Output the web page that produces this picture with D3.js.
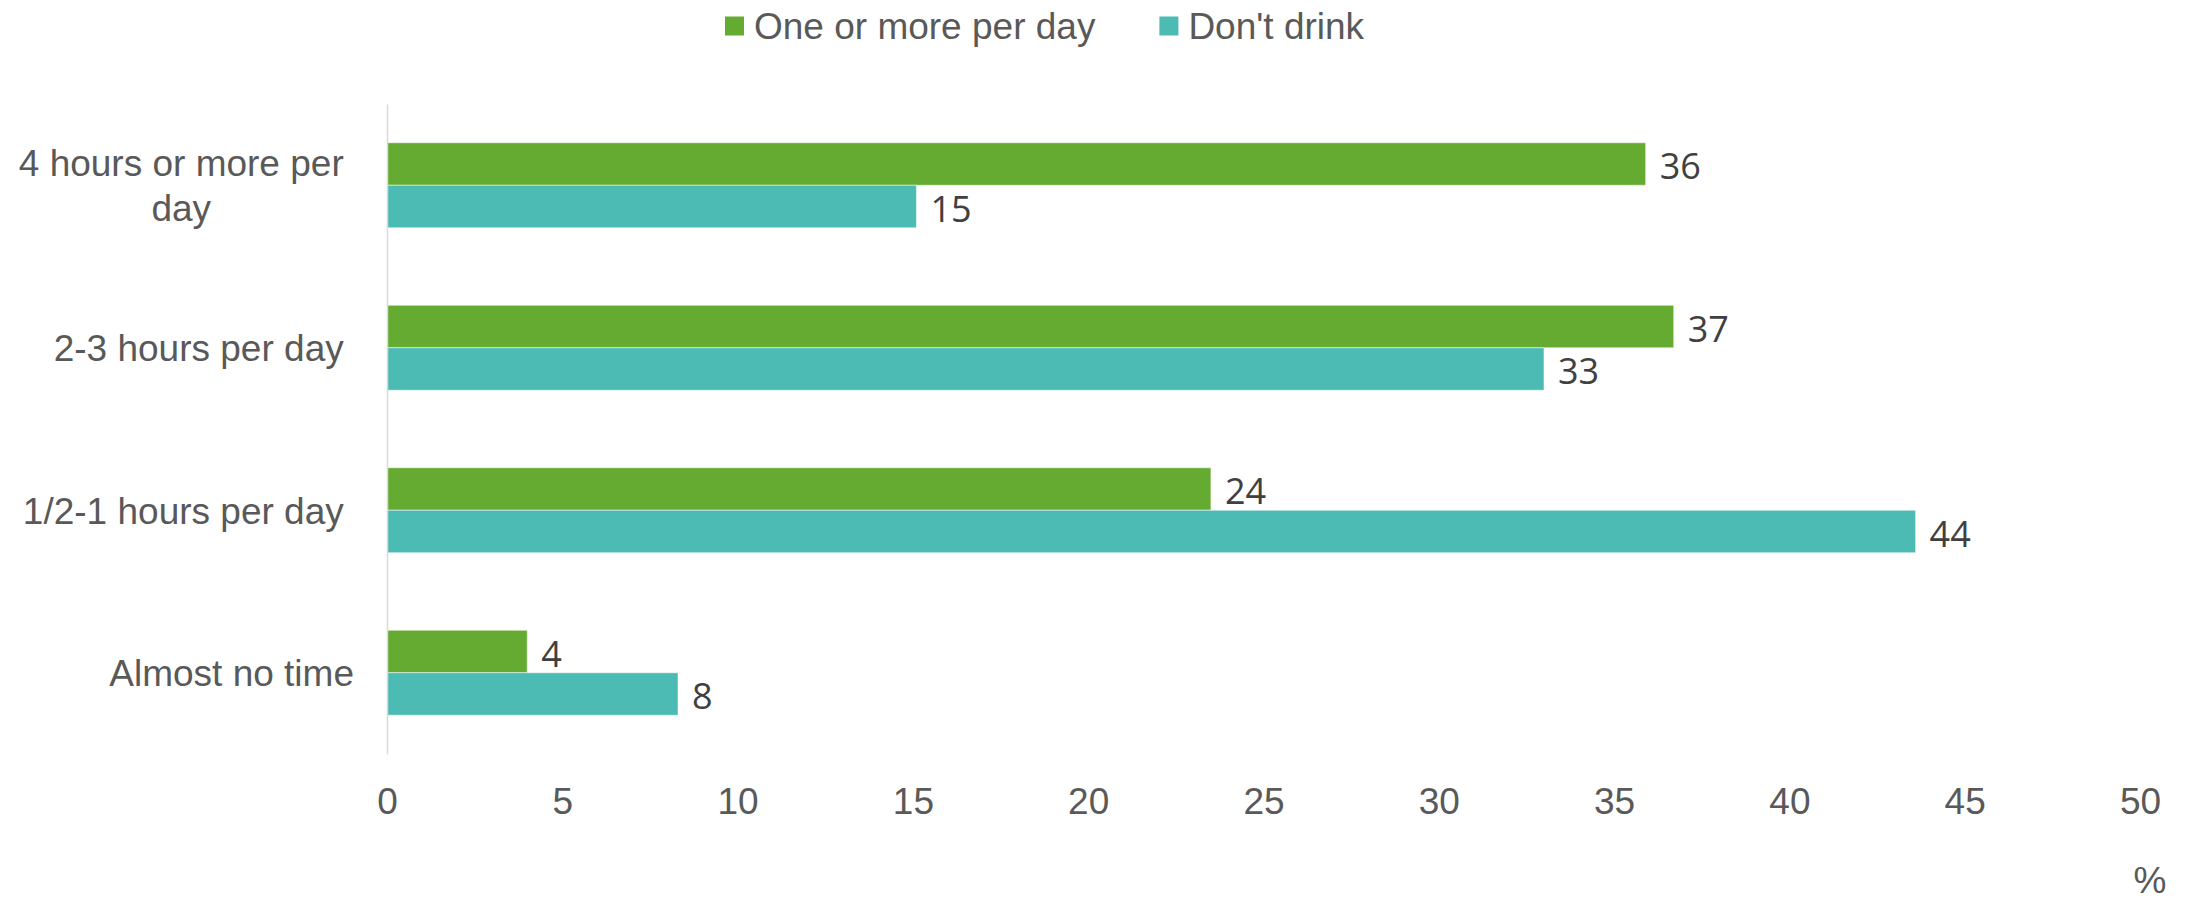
<!DOCTYPE html>
<html>
<head>
<meta charset="utf-8">
<script src="https://cdn.jsdelivr.net/npm/d3@7"></script>
<style>
  body { margin: 0; background: #fff; }
  svg { display: block; }
  .lbl { font-family: "Liberation Sans", Arial, sans-serif; font-size: 37px; fill: #595959; }
  .val { font-family: "Open Sans", "Noto Sans", sans-serif; font-size: 36px; fill: #404040; }
</style>
</head>
<body>
<svg id="chart" width="2186" height="901"></svg>
<script>
// Time spent on screens vs. sugary-drink consumption (%)
const categories = ["4 hours or more per day ", "2-3 hours per day ", "1/2-1 hours per day ", "Almost no time"];
const seriesNames = ["One or more per day", "Don't drink"];
const oneOrMorePerDay = [35.9, 36.7, 23.5, 4.0];
const dontDrink = [15.1, 33.0, 43.6, 8.3];
const xTickValues = [0, 5, 10, 15, 20, 25, 30, 35, 40, 45, 50];
const unitLabel = "%";
const seriesColors = ["#65ab31", "#4bbbb4"];

const series = [oneOrMorePerDay, dontDrink];
const rows = categories.map((c, i) => ({
  category: c,
  values: seriesNames.map((s, j) => ({ series: s, value: series[j][i], color: seriesColors[j] }))
}));

const svg = d3.select("#chart");
svg.append("rect").attr("width", 2186).attr("height", 901).attr("fill", "#fff");

const plot = { left: 387, right: 2140, top: 104, bottom: 754 };

const x = d3.scaleLinear().domain([0, 50]).range([plot.left, plot.right]);
const y = d3.scaleBand().domain(categories).range([plot.top, plot.bottom])
  .paddingInner(0.477).paddingOuter(0.2385);
const ySub = d3.scaleBand().domain(seriesNames).range([0, y.bandwidth()]);

// Bars
const groups = svg.append("g").selectAll("g").data(rows).join("g")
  .attr("transform", d => `translate(0,${y(d.category)})`);

groups.selectAll("rect").data(d => d.values).join("rect")
  .attr("x", x(0))
  .attr("y", d => ySub(d.series))
  .attr("width", d => x(d.value) - x(0))
  .attr("height", ySub.bandwidth())
  .attr("fill", d => d.color)
  .attr("stroke", "#ffffff")
  .attr("stroke-opacity", 0.5)
  .attr("stroke-width", 1);

// Value labels
groups.selectAll("text").data(d => d.values).join("text")
  .attr("class", "val")
  .attr("x", d => x(d.value) + 14)
  .attr("y", d => ySub(d.series) + ySub.bandwidth() / 2)
  .attr("dy", "0.42em")
  .text(d => Math.round(d.value));

// X axis (labels only)
const xAxis = svg.append("g")
  .attr("transform", `translate(0,${plot.bottom})`)
  .call(d3.axisBottom(x).tickValues(xTickValues).tickSize(0).tickPadding(34));
xAxis.select(".domain").remove();
xAxis.selectAll("text").attr("class", "lbl").attr("font-size", null).attr("font-family", null);

// Y axis with wrapped, centred category labels
const yAxis = svg.append("g")
  .attr("transform", `translate(${plot.left},0)`)
  .call(d3.axisLeft(y).tickSize(0));
yAxis.select(".domain").attr("stroke", "#d9d9d9").attr("stroke-width", 1.5);

const measure = svg.append("text").attr("class", "lbl").style("white-space", "pre");
const textWidth = s => { measure.text(s); return measure.node().getComputedTextLength(); };
const spaceWidth = textWidth("a a") - textWidth("aa");
const maxLabelWidth = 335;
const labelRight = 354 - plot.left;
const lineHeight = 44.5;

yAxis.selectAll(".tick text").each(function (d) {
  const t = d3.select(this).attr("class", "lbl").attr("font-size", null).attr("font-family", null)
    .attr("fill", null).attr("x", null).attr("dy", null).text(null);
  const words = d.trim().split(/\s+/);
  const lines = [];
  let cur = "";
  words.forEach(w => {
    const test = cur ? cur + " " + w : w;
    if (cur && textWidth(test) > maxLabelWidth) { lines.push(cur); cur = w; }
    else cur = test;
  });
  if (cur) lines.push(cur);
  const blockW = d3.max(lines, textWidth);
  const right = labelRight - (/\s$/.test(d) ? spaceWidth : 0);
  const cx = right - blockW / 2;
  t.attr("text-anchor", "middle");
  lines.forEach((ln, i) => {
    t.append("tspan")
      .attr("x", cx)
      .attr("y", (i - (lines.length - 1) / 2) * lineHeight)
      .attr("dy", "0.36em")
      .text(ln);
  });
});
measure.remove();

// Legend
const legend = svg.append("g").attr("transform", "translate(725,0)");
let lx = 0;
seriesNames.forEach((name, i) => {
  const item = legend.append("g").attr("transform", `translate(${lx},0)`);
  item.append("rect").attr("x", 0).attr("y", 16.5).attr("width", 19).attr("height", 19)
    .attr("fill", seriesColors[i]);
  const txt = item.append("text").attr("class", "lbl").attr("x", 29).attr("y", 26).attr("dy", "0.36em").text(name);
  lx += 29 + txt.node().getComputedTextLength() + 64;
});

// Unit label
svg.append("text").attr("class", "lbl")
  .attr("x", 2150).attr("y", 893).attr("text-anchor", "middle")
  .text(unitLabel);
</script>
</body>
</html>
